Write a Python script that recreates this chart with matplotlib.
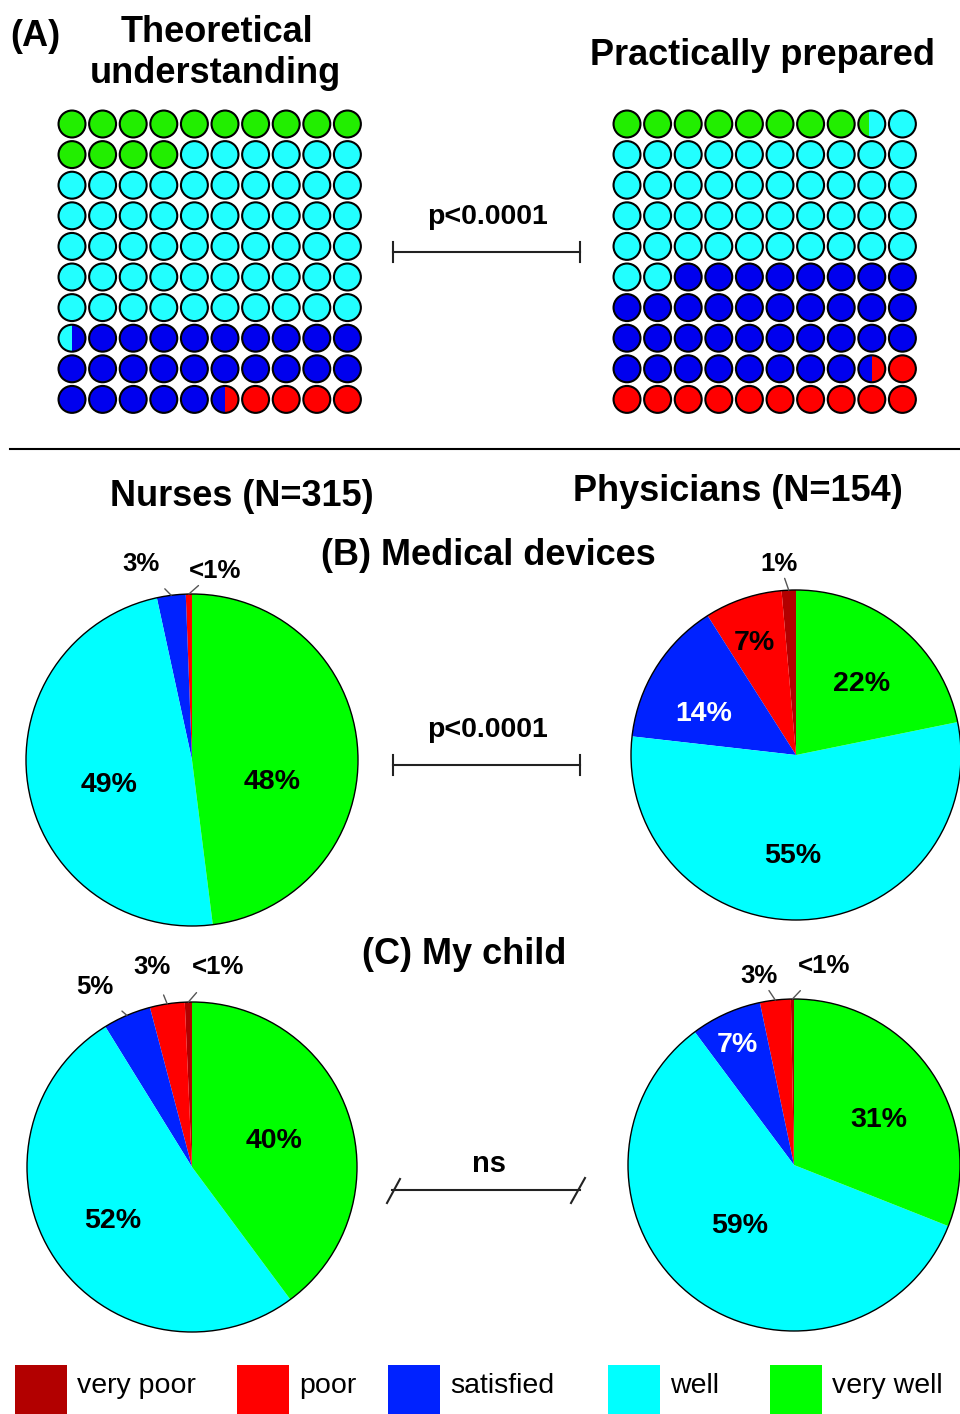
import numpy as np
import matplotlib
matplotlib.use("Agg")
import matplotlib.pyplot as plt
from matplotlib.patches import Circle, Rectangle

# --- data ---
categories = ["very poor", "poor", "satisfied", "well", "very well"]

# waffle (A): share of 100 respondents, filled from "very well" downwards
waffle_order = ["very well", "well", "satisfied", "poor", "very poor"]
theoretical = [14.0, 56.5, 25.0, 4.5, 0.0]
practical = [8.4, 43.6, 36.5, 11.5, 0.0]

# pies, order = categories (very poor .. very well)
nurses_devices = [0.0, 0.6, 2.8, 48.6, 48.0]
physicians_devices = [1.4, 7.6, 14.2, 55.0, 21.8]
nurses_child = [0.7, 3.4, 4.7, 51.3, 39.8]
physicians_child = [0.3, 3.0, 6.9, 58.8, 31.0]

nurses_devices_lbl = [None, "<1%", "3%", "49%", "48%"]
physicians_devices_lbl = ["1%", "7%", "14%", "55%", "22%"]
nurses_child_lbl = ["<1%", "3%", "5%", "52%", "40%"]
physicians_child_lbl = ["<1%", "3%", "7%", "59%", "31%"]

pie_colors = ["#b20000", "#ff0000", "#0022ff", "#00ffff", "#00ff00"]
waffle_colors = {"very well": "#22ee00", "well": "#22ffff", "satisfied": "#0000ee",
                 "poor": "#ff0000", "very poor": "#b20000"}

W, H = 960, 1414
fig = plt.figure(figsize=(W / 100, H / 100), dpi=100)

BOLD = dict(family="Liberation Sans", fontweight="bold")


def px_axes(x0, y0, x1, y1):
    return fig.add_axes([x0 / W, 1 - y1 / H, (x1 - x0) / W, (y1 - y0) / H])


bg = px_axes(0, 0, W, H)
bg.set_xlim(0, W)
bg.set_ylim(H, 0)
bg.axis("off")


def waffle(x0, y0, step, values):
    ax = px_axes(x0 - step / 2, y0 - step / 2, x0 + 9.5 * step, y0 + 9.5 * step)
    ax.set_xlim(-0.5, 9.5)
    ax.set_ylim(9.5, -0.5)
    ax.axis("off")
    bounds = np.concatenate([[0], np.cumsum(values)])
    for k in range(100):
        row, col = divmod(k, 10)
        clip = Circle((col, row), 0.44, transform=ax.transData)
        for i, name in enumerate(waffle_order):
            lo = max(bounds[i], k) - k
            hi = min(bounds[i + 1], k + 1) - k
            if hi <= lo:
                continue
            r = Rectangle((col - 0.5 + lo, row - 0.5), hi - lo, 1,
                          fc=waffle_colors[name], ec="none")
            ax.add_patch(r)
            r.set_clip_path(clip)
        ax.add_patch(Circle((col, row), 0.44, fill=False, ec="black", lw=1.5))


waffle(72, 124, 30.6, theoretical)
waffle(627, 124, 30.6, practical)


def pie(cx, cy, r, values, labels, pos, colors_txt, outer):
    ax = px_axes(cx - r, cy - r, cx + r, cy + r)
    wedges, _ = ax.pie(values, colors=pie_colors, startangle=90, counterclock=True,
                       radius=1, wedgeprops=dict(linewidth=0))
    ax.add_patch(Circle((0, 0), 1, fill=False, ec="black", lw=1, clip_on=False))
    ax.set_xlim(-1, 1)
    ax.set_ylim(-1, 1)
    ax.axis("off")
    for i, (w, lab) in enumerate(zip(wedges, labels)):
        if lab is None:
            continue
        tx, ty = pos[i]
        if i in outer:
            ang = np.deg2rad((w.theta1 + w.theta2) / 2)
            ax.annotate(lab, xy=(np.cos(ang), np.sin(ang)), xytext=(tx, ty),
                        ha="center", va="center", fontsize=18.5, color="black",
                        arrowprops=dict(arrowstyle="-", color="#555555", lw=1,
                                        shrinkA=10, shrinkB=0), **BOLD)
        else:
            ax.text(tx, ty, lab, ha="center", va="center", fontsize=20.5,
                    color=colors_txt[i], **BOLD)


pie(192, 760, 166, nurses_devices, nurses_devices_lbl,
    [None, (0.14, 1.14), (-0.31, 1.18), (-0.50, -0.15), (0.48, -0.13)],
    ["k"] * 5, outer={1, 2})
pie(796, 755, 165, physicians_devices, physicians_devices_lbl,
    [(-0.10, 1.16), (-0.25, 0.68), (-0.56, 0.25), (-0.02, -0.61), (0.40, 0.43)],
    ["k", "k", "white", "k", "k"], outer={0})
pie(192, 1167, 165, nurses_child, nurses_child_lbl,
    [(0.16, 1.21), (-0.24, 1.21), (-0.59, 1.09), (-0.48, -0.33), (0.50, 0.16)],
    ["k"] * 5, outer={0, 1, 2})
pie(794, 1165, 166, physicians_child, physicians_child_lbl,
    [(0.18, 1.20), (-0.21, 1.14), (-0.34, 0.72), (-0.33, -0.37), (0.51, 0.27)],
    ["k", "k", "white", "k", "k"], outer={0, 1})

# --- titles and annotations ---
bg.text(10, 46, "(A)", fontsize=26, ha="left", va="baseline", **BOLD)
bg.text(217, 42, "Theoretical", fontsize=26, ha="center", va="baseline", **BOLD)
bg.text(215, 83, "understanding", fontsize=26, ha="center", va="baseline", **BOLD)
bg.text(763, 65, "Practically prepared", fontsize=26, ha="center", va="baseline", **BOLD)
bg.text(242, 506, "Nurses (N=315)", fontsize=26, ha="center", va="baseline", **BOLD)
bg.text(738, 501, "Physicians (N=154)", fontsize=26, ha="center", va="baseline", **BOLD)
bg.text(488, 565, "(B) Medical devices", fontsize=26, ha="center", va="baseline", **BOLD)
bg.text(464, 964, "(C) My child", fontsize=26, ha="center", va="baseline", **BOLD)

bg.plot([10, 960], [449, 449], color="black", lw=1.5)

for y, base in [(252, 224), (765, 737)]:
    bg.text(487, base, "p<0.0001", fontsize=20.5, ha="center", va="baseline", **BOLD)
    bg.plot([393, 580], [y, y], color="#222222", lw=1.5)
    bg.plot([393, 393], [y - 10, y + 10], color="#222222", lw=1.5)
    bg.plot([580, 580], [y - 10, y + 10], color="#222222", lw=1.5)

bg.text(489, 1172, "ns", fontsize=21, ha="center", va="baseline", **BOLD)
bg.plot([392, 580], [1190, 1190], color="#222222", lw=1.5)
bg.plot([387, 400], [1203, 1179], color="#222222", lw=1.5)
bg.plot([571, 585], [1203, 1178], color="#222222", lw=1.5)

# --- legend ---
legend_x = [15, 237, 388, 608, 770]
for x, c, name in zip(legend_x, pie_colors, categories):
    bg.add_patch(Rectangle((x, 1365), 52, 52, fc=c, ec="none"))
    bg.text(x + 62, 1386, name, fontsize=20.5, ha="left", va="center",
            family="Liberation Sans")

fig.savefig("out.png", dpi=100)
